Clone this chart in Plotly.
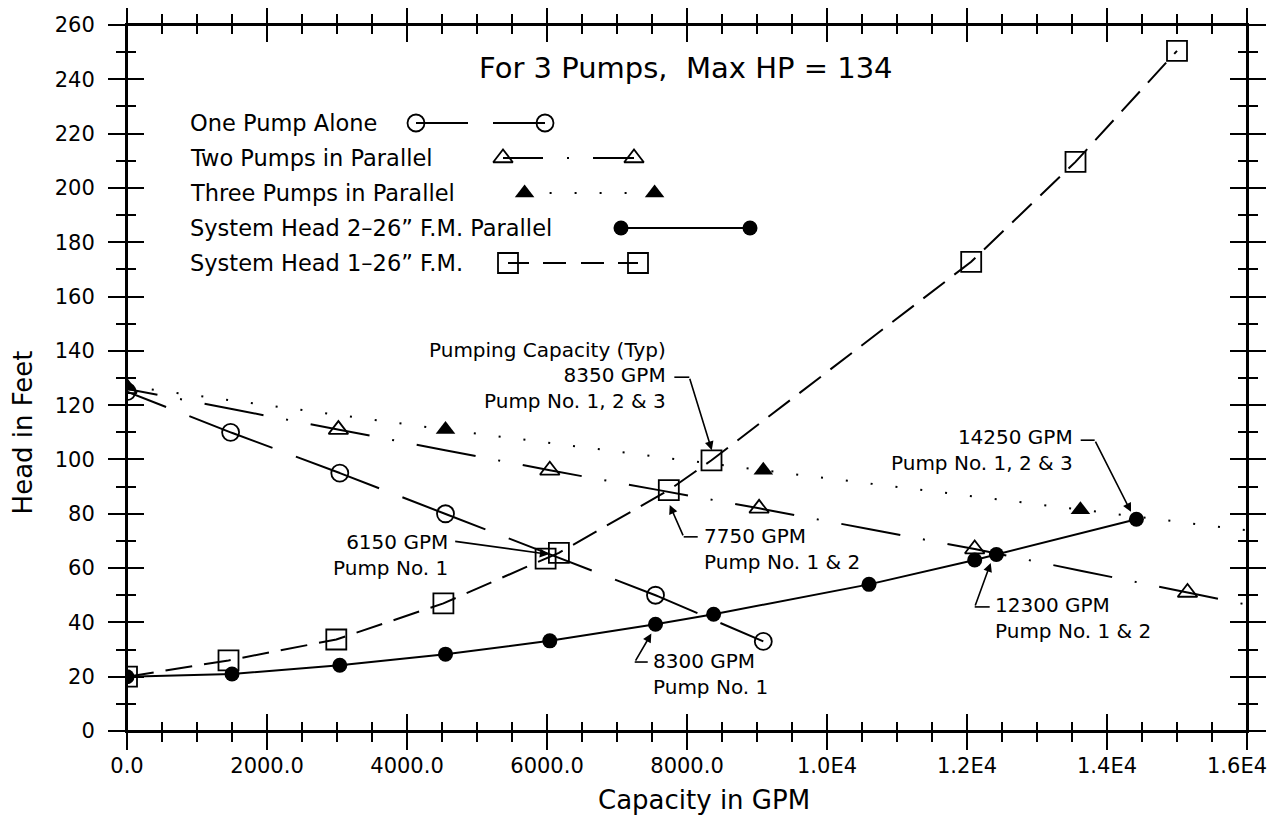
import plotly.graph_objects as go

FONT = "DejaVu Sans"

# ---------------- data ----------------
one_q = [0, 1480, 3040, 4550, 7550, 9090]
one_h = [125, 110, 95, 80, 50, 33]

two_q = [0, 3020, 6040, 9030, 12110, 15150, 18180]
two_h = [126, 111, 96, 82, 67, 51, 35]

three_q = [0, 4550, 9090, 13620, 18160]
three_h = [127, 111, 96, 81.5, 67]

sys2_q = [0, 1500, 3040, 4550, 6040, 7550, 8380, 10600, 12110, 12420, 14420]
sys2_h = [20, 21, 24.2, 28.3, 33.2, 39.3, 43, 54, 63, 65, 78]

sys1_q = [0, 1450, 2990, 4520, 5980, 6170, 7740, 8350, 12060, 13550, 15000]
sys1_h = [20, 26, 33.7, 47, 63.5, 65.6, 88.7, 99.7, 172.8, 209.6, 250.5]

x_tick_vals = [0, 2000, 4000, 6000, 8000, 10000, 12000, 14000, 16000]
x_tick_text = ["0.0", "2000.0", "4000.0", "6000.0", "8000.0", "1.0E4", "1.2E4", "1.4E4", "1.6E4"]
y_tick_vals = list(range(0, 261, 20))

series_names = ["One Pump Alone", "Two Pumps in Parallel", "Three Pumps in Parallel",
                "System Head 2\u201326\u201d F.M. Parallel", "System Head 1\u201326\u201d F.M."]

title_text = "For 3 Pumps,\u00a0 Max HP = 134"

# callouts: text, anchor(q,h), side, leader start, elbow, arrow tip
callout_text = ["8350 GPM<br>Pump No. 1, 2 & 3", "6150 GPM<br>Pump No. 1",
                "7750 GPM<br>Pump No. 1 & 2", "14250 GPM<br>Pump No. 1, 2 & 3",
                "12300 GPM<br>Pump No. 1 & 2", "8300 GPM<br>Pump No. 1"]
callout_pos = [(7724, 126.3), (4610, 64.7), (8210, 67.2), (13539, 103.5), (12367, 41.7), (7491, 21.1)]
callout_side = ["right", "right", "left", "right", "left", "left"]
leader_start = [(7819, 130.3), None, (8153, 71.5), (13624, 107.1), (12324, 45.7), (7439, 25.4)]
leader_elbow = [(8033, 130.3), (4667, 69.9), (7953, 71.5), (13824, 107.1), (12110, 45.7), (7253, 25.4)]
leader_tip = [(8354, 103.4), (6024, 65.1), (7753, 83.2), (14343, 80.7), (12339, 61.9), (7491, 35.9)]

# ---------------- styles ----------------
BLACK = "black"
LW = 2
dash_one = "42px,25px,47px,0px"
dash_two = "31px,23px,2px,23px,29px,0px"
dash_three = "2px,23px"
dash_sys1 = "27px,12px"

m_open_circle = dict(symbol="circle-open", size=17, color=BLACK, line=dict(width=1.8, color=BLACK))
m_open_tri = dict(symbol="triangle-up-open", size=17, color=BLACK, line=dict(width=1.8, color=BLACK))
m_fill_tri = dict(symbol="triangle-up", size=17, color=BLACK, line=dict(width=0))
m_fill_circle = dict(symbol="circle", size=15, color=BLACK, line=dict(width=0))
m_open_sq = dict(symbol="square-open", size=20, color=BLACK, line=dict(width=1.8, color=BLACK))

fig = go.Figure()

# lines first
for q, h, d in [(one_q, one_h, dash_one), (two_q, two_h, dash_two), (three_q, three_h, dash_three),
                (sys2_q, sys2_h, "solid"), (sys1_q, sys1_h, dash_sys1)]:
    fig.add_trace(go.Scatter(x=q, y=h, mode="lines", line=dict(color=BLACK, width=LW, dash=d),
                             showlegend=False, hoverinfo="skip"))
# markers
for q, h, m, nm in [(one_q, one_h, m_open_circle, series_names[0]), (two_q, two_h, m_open_tri, series_names[1]),
                    (sys1_q, sys1_h, m_open_sq, series_names[4]), (three_q, three_h, m_fill_tri, series_names[2]),
                    (sys2_q, sys2_h, m_fill_circle, series_names[3])]:
    fig.add_trace(go.Scatter(x=q, y=h, mode="markers", marker=m, name=nm, showlegend=False))

# empty trace to create the overlay subplot used for inward ticks
fig.add_trace(go.Scatter(x=[], y=[], xaxis="x2", yaxis="y2", showlegend=False))

# ---------------- hand-drawn legend (page-pixel axes x3/y3) ----------------
LEG_TEXT_X = 188
leg_rows = [123, 158, 193, 228, 263]
leg_sym = [(416, 545), (503, 634), (524.6, 654.6), (621, 750), (508, 638)]
for i, (row, (a, b)) in enumerate(zip(leg_rows, leg_sym)):
    if i == 0:
        lx = [a, a + 52, None, b - 52, b]
        dsh = "solid"
        mk = m_open_circle
    elif i == 1:
        lx = [a, a + 40, None, a + 64, a + 66, None, b - 41, b]
        dsh = "solid"
        mk = m_open_tri
    elif i == 2:
        lx = [a, b]
        dsh = dash_three
        mk = m_fill_tri
    elif i == 3:
        lx = [a, b]
        dsh = "solid"
        mk = m_fill_circle
    else:
        lx = [a, a + 21, None, a + 35, a + 58, None, a + 73, a + 96, None, a + 110, b]
        dsh = "solid"
        mk = m_open_sq
    fig.add_trace(go.Scatter(x=lx, y=[row] * len(lx), xaxis="x3", yaxis="y3", mode="lines",
                             line=dict(color=BLACK, width=LW, dash=dsh), showlegend=False, hoverinfo="skip"))
    fig.add_trace(go.Scatter(x=[a, b], y=[row, row], xaxis="x3", yaxis="y3", mode="markers",
                             marker=mk, showlegend=False, hoverinfo="skip"))

annotations = []
for name, row in zip(series_names, leg_rows):
    annotations.append(dict(xref="x3", yref="y3", x=LEG_TEXT_X, y=row, text=name, showarrow=False,
                            xanchor="left", yanchor="middle", font=dict(family=FONT, size=22.5, color=BLACK)))

# title and axis titles
annotations.append(dict(xref="paper", yref="paper", x=0.499, y=0.9387, text=title_text, showarrow=False,
                        xanchor="center", yanchor="middle", font=dict(family=FONT, size=29, color=BLACK)))
annotations.append(dict(xref="paper", yref="paper", x=0.515, y=-0.0977, text="Capacity in GPM", showarrow=False,
                        xanchor="center", yanchor="middle", font=dict(family=FONT, size=26, color=BLACK)))
annotations.append(dict(xref="paper", yref="paper", x=-0.0925, y=0.4235, text="Head in Feet", showarrow=False,
                        textangle=-90, xanchor="center", yanchor="middle",
                        font=dict(family=FONT, size=26, color=BLACK)))

# last x tick label drawn as text flush with the page edge (so it is not clipped)
tickfont = dict(family=FONT, size=21, color=BLACK)
annotations.append(dict(xref="paper", yref="paper", x=1.0196, y=-0.0496, text=x_tick_text[-1], showarrow=False,
                        xanchor="right", yanchor="middle", font=tickfont))
x_tick_text_axis = x_tick_text[:-1] + [""]

# callouts
annotations.append(dict(xref="x", yref="y", x=7724, y=140.3, text="Pumping Capacity (Typ)", showarrow=False,
                        xanchor="right", yanchor="middle", font=dict(family=FONT, size=20, color=BLACK)))
shapes = []
for txt, (cx, cy), side, st, el, tp in zip(callout_text, callout_pos, callout_side,
                                          leader_start, leader_elbow, leader_tip):
    annotations.append(dict(xref="x", yref="y", x=cx, y=cy, text=txt, showarrow=False, xanchor=side,
                            align=side, yanchor="middle", font=dict(family=FONT, size=20, color=BLACK)))
    if st is not None:
        shapes.append(dict(type="line", xref="x", yref="y", x0=st[0], y0=st[1], x1=el[0], y1=el[1],
                           line=dict(color=BLACK, width=1.6)))
    annotations.append(dict(xref="x", yref="y", axref="x", ayref="y", x=tp[0], y=tp[1], ax=el[0], ay=el[1],
                            text="", showarrow=True, arrowhead=2, arrowsize=1.1, arrowwidth=1.6,
                            arrowcolor=BLACK, standoff=0, startstandoff=0))

# frame lines extended past the corners
ex = 17 / 1120
ey = 17 / 706
for x0, y0, x1, y1 in [(-ex, 0, 1 + ex, 0), (-ex, 1, 1 + ex, 1), (0, -ey, 0, 1 + ey), (1, -ey, 1, 1 + ey)]:
    shapes.append(dict(type="line", xref="paper", yref="paper", x0=x0, y0=y0, x1=x1, y1=y1,
                       line=dict(color=BLACK, width=2)))

common = dict(showgrid=False, zeroline=False, tickcolor=BLACK, tickwidth=2, ticklen=17, mirror="allticks",
              showline=True, linecolor=BLACK, linewidth=2, automargin=False)

fig.update_layout(
    template="none",
    width=1263, height=807,
    margin=dict(l=119, r=24, t=17, b=84, autoexpand=False),
    paper_bgcolor="white", plot_bgcolor="white",
    font=dict(family=FONT, color=BLACK),
    xaxis=dict(range=[0, 16000], tickvals=x_tick_vals, ticktext=x_tick_text_axis, ticks="outside",
               minor=dict(tick0=0, dtick=500, ticks="outside", ticklen=9, tickwidth=2, tickcolor=BLACK),
               tickfont=tickfont, ticklabelstandoff=-2, **common),
    yaxis=dict(range=[0, 260], tickvals=y_tick_vals, ticks="outside",
               minor=dict(tick0=0, dtick=10, ticks="outside", ticklen=9, tickwidth=2, tickcolor=BLACK),
               tickfont=tickfont, ticklabelstandoff=9, ticklabeloverflow="allow", **common),
    xaxis2=dict(range=[0, 16000], overlaying="x", anchor="y2", side="bottom", tickvals=x_tick_vals,
                ticks="inside", showticklabels=False,
                minor=dict(tick0=0, dtick=500, ticks="inside", ticklen=9, tickwidth=2, tickcolor=BLACK),
                **common),
    yaxis2=dict(range=[0, 260], overlaying="y", anchor="x2", side="left", tickvals=y_tick_vals,
                ticks="inside", showticklabels=False,
                minor=dict(tick0=0, dtick=10, ticks="inside", ticklen=9, tickwidth=2, tickcolor=BLACK),
                **common),
    xaxis3=dict(range=[127, 1247], overlaying="x", anchor="y3", visible=False, fixedrange=True),
    yaxis3=dict(range=[731, 25], overlaying="y", anchor="x3", visible=False, fixedrange=True),
    annotations=annotations,
    shapes=shapes,
)

fig.write_html("out.html")
